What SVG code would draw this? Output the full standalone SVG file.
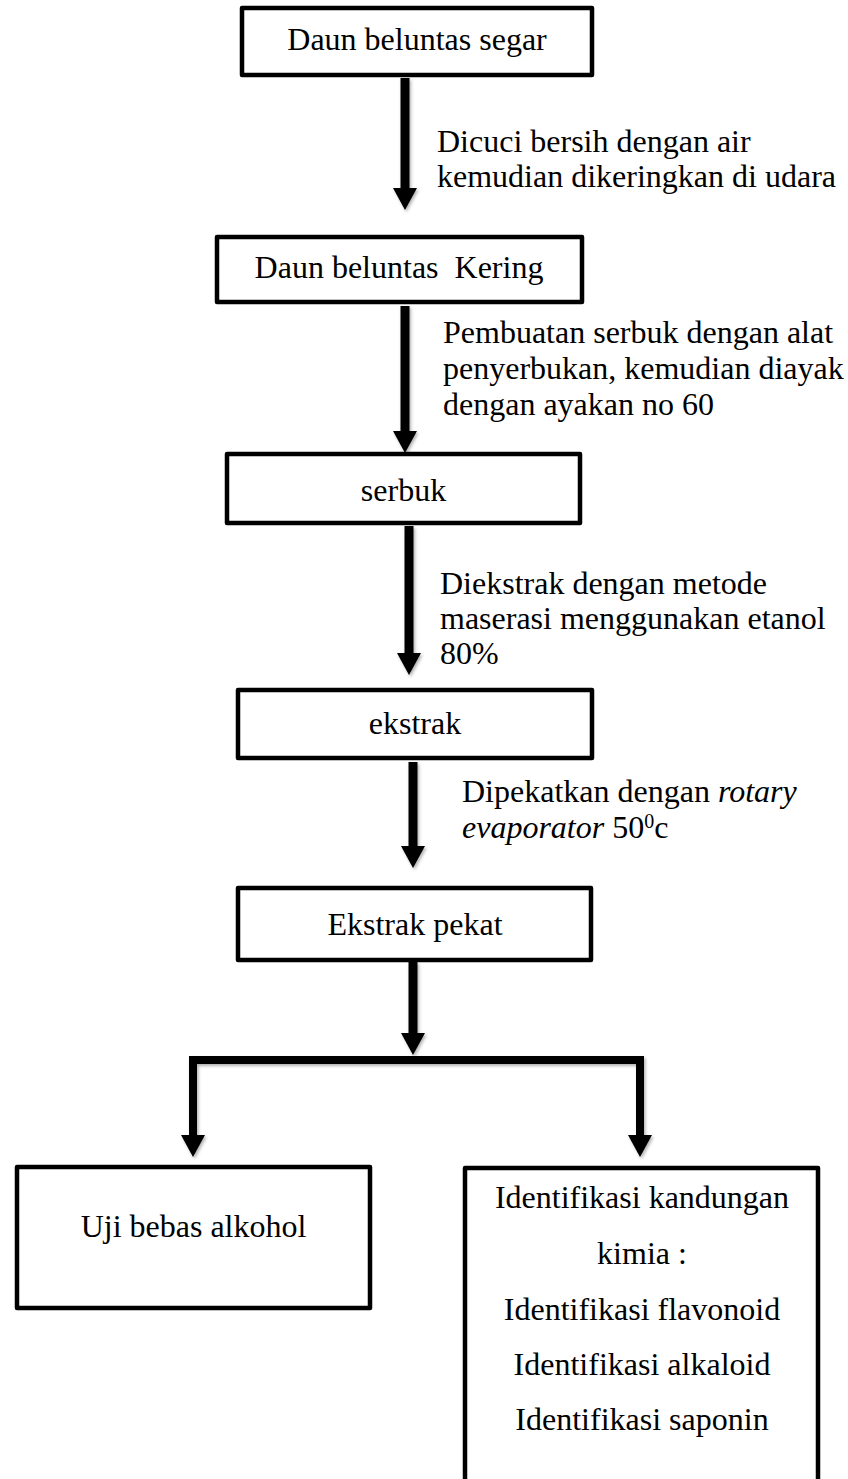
<svg xmlns="http://www.w3.org/2000/svg" width="848" height="1479" viewBox="0 0 848 1479">
<style>
  .box { fill: #fff; stroke: #000; stroke-width: 4.5; stroke-linejoin: round; }
  .t { font-family: "Liberation Serif", "Times New Roman", serif; font-size: 32px; fill: #000; }
  .c { text-anchor: middle; }
  .pre { white-space: pre; }
  .shaft { fill: none; stroke: #000; stroke-width: 9; }
  .bar { fill: none; stroke: #000; stroke-width: 8; stroke-linejoin: miter; }
</style>
<defs>
  <marker id="ah" viewBox="0 0 22 24" markerWidth="22" markerHeight="24" refX="0" refY="12" orient="auto" markerUnits="userSpaceOnUse">
    <path d="M0,0 L22,12 L0,24 Z" fill="#000"/>
  </marker>
  <filter id="sh" x="-50%" y="-10%" width="200%" height="130%">
    <feDropShadow dx="1.5" dy="2" stdDeviation="1.5" flood-color="#000" flood-opacity="0.3"/>
  </filter>
</defs>
<rect width="848" height="1479" fill="#fff"/>

<g id="connectors" filter="url(#sh)">
  <path class="shaft" d="M405,78 L405,188" marker-end="url(#ah)"/>
  <path class="shaft" d="M405,306 L405,431" marker-end="url(#ah)"/>
  <path class="shaft" d="M409,526 L409,653" marker-end="url(#ah)"/>
  <path class="shaft" d="M413,762 L413,846" marker-end="url(#ah)"/>
  <path class="shaft" d="M413,962 L413,1033" marker-end="url(#ah)"/>
  <path class="bar" d="M413,1060 L193,1060 L193,1135" marker-end="url(#ah)"/>
  <path class="bar" d="M413,1060 L640,1060 L640,1135" marker-end="url(#ah)"/>
</g>

<g id="label1">
  <text class="t" x="437" y="152">Dicuci bersih dengan air</text>
  <text class="t" x="437" y="187">kemudian dikeringkan di udara</text>
</g>
<g id="label2">
  <text class="t" x="443" y="343">Pembuatan serbuk dengan alat</text>
  <text class="t" x="443" y="379">penyerbukan, kemudian diayak</text>
  <text class="t" x="443" y="415">dengan ayakan no 60</text>
</g>
<g id="label3">
  <text class="t" x="440" y="594">Diekstrak dengan metode</text>
  <text class="t" x="440" y="629">maserasi menggunakan etanol</text>
  <text class="t" x="440" y="664">80%</text>
</g>
<g id="label4">
  <text class="t" x="462" y="802">Dipekatkan dengan <tspan font-style="italic">rotary</tspan></text>
  <text class="t" x="462" y="838"><tspan font-style="italic">evaporator</tspan> 50<tspan font-size="20" dy="-10">0</tspan><tspan dy="10">c</tspan></text>
</g>

<g id="node1">
  <rect class="box" x="242" y="8" width="350" height="67"/>
  <text class="t c" x="417" y="50">Daun beluntas segar</text>
</g>
<g id="node2">
  <rect class="box" x="217" y="237" width="365" height="65"/>
  <text class="t c pre" x="399" y="278">Daun beluntas  Kering</text>
</g>
<g id="node3">
  <rect class="box" x="227" y="454" width="353" height="69"/>
  <text class="t c" x="403.5" y="501">serbuk</text>
</g>
<g id="node4">
  <rect class="box" x="238" y="690" width="354" height="68"/>
  <text class="t c" x="415" y="734">ekstrak</text>
</g>
<g id="node5">
  <rect class="box" x="238" y="888" width="353" height="72"/>
  <text class="t c" x="415" y="935">Ekstrak pekat</text>
</g>
<g id="node6">
  <rect class="box" x="17" y="1167" width="353" height="141"/>
  <text class="t c" x="193.5" y="1237">Uji bebas alkohol</text>
</g>
<g id="node7">
  <rect class="box" x="465" y="1168" width="353" height="330"/>
  <text class="t c" x="642" y="1208">Identifikasi kandungan</text>
  <text class="t c" x="642" y="1264">kimia :</text>
  <text class="t c" x="642" y="1320">Identifikasi flavonoid</text>
  <text class="t c" x="642" y="1375">Identifikasi alkaloid</text>
  <text class="t c" x="642" y="1430">Identifikasi saponin</text>
</g>
</svg>
